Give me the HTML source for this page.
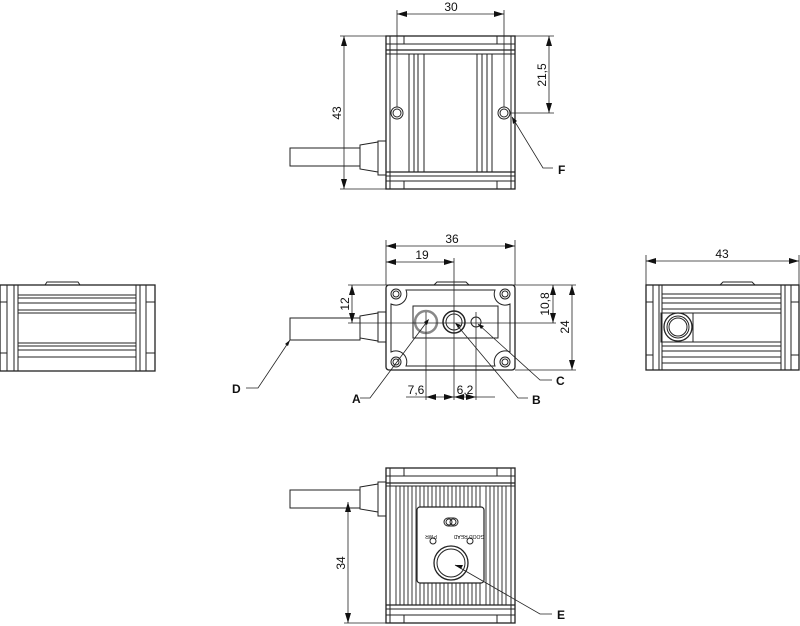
<!DOCTYPE html>
<html><head><style>
html,body{margin:0;padding:0;background:#fff}
svg{display:block}
text{font-family:"Liberation Sans",sans-serif;font-size:12px;fill:#111}
.b{font-weight:bold}
</style></head><body>
<svg width="800" height="626" viewBox="0 0 800 626" xmlns="http://www.w3.org/2000/svg">
<defs>
<marker id="ar" viewBox="0 0 10 6" refX="10" refY="3" markerWidth="10" markerHeight="6" orient="auto-start-reverse" markerUnits="userSpaceOnUse"><path d="M0,0 L10,3 L0,6z" fill="#111"/></marker>
</defs>
<g fill="none" stroke="#222" stroke-width="1">

<!-- ===== TOP VIEW ===== -->
<rect x="386" y="36" width="129" height="153" stroke-width="1.3"/>
<line x1="390" y1="36" x2="390" y2="189"/><line x1="511" y1="36" x2="511" y2="189"/>
<rect x="390" y="36" width="14" height="8"/><rect x="497" y="36" width="14" height="8"/>
<rect x="390" y="181" width="14" height="8"/><rect x="497" y="181" width="14" height="8"/>
<line x1="386" y1="44" x2="515" y2="44"/><line x1="386" y1="50" x2="515" y2="50" stroke-width="1.3"/><line x1="386" y1="54" x2="515" y2="54"/>
<line x1="386" y1="172" x2="515" y2="172" stroke-width="1.3"/><line x1="386" y1="176" x2="515" y2="176"/><line x1="386" y1="181" x2="515" y2="181"/>
<line x1="409" y1="54" x2="409" y2="172"/><line x1="414" y1="54" x2="414" y2="172"/><line x1="418" y1="54" x2="418" y2="172"/><line x1="424" y1="54" x2="424" y2="172"/>
<line x1="477" y1="54" x2="477" y2="172"/><line x1="482" y1="54" x2="482" y2="172"/><line x1="487" y1="54" x2="487" y2="172"/><line x1="492" y1="54" x2="492" y2="172"/>
<circle cx="397" cy="113" r="6"/><circle cx="397" cy="113" r="4"/>
<circle cx="504" cy="113" r="6"/><circle cx="504" cy="113" r="4"/>
<rect x="290" y="148" width="70" height="18"/>
<path d="M360,145 L378,142 L378,172 L360,169z"/>
<rect x="378" y="141" width="8" height="34"/>
<line x1="397" y1="10" x2="397" y2="107" stroke-width=".8"/><line x1="504" y1="10" x2="504" y2="107" stroke-width=".8"/>
<line x1="397" y1="14" x2="504" y2="14" stroke-width=".8" marker-start="url(#ar)" marker-end="url(#ar)"/>
<line x1="340" y1="36" x2="386" y2="36" stroke-width=".8"/><line x1="340" y1="189" x2="386" y2="189" stroke-width=".8"/>
<line x1="344" y1="36" x2="344" y2="189" stroke-width=".8" marker-start="url(#ar)" marker-end="url(#ar)"/>
<line x1="515" y1="36" x2="554" y2="36" stroke-width=".8"/><line x1="510" y1="113" x2="554" y2="113" stroke-width=".8"/>
<line x1="549" y1="36" x2="549" y2="113" stroke-width=".8" marker-start="url(#ar)" marker-end="url(#ar)"/>
<polyline points="512,117 543,168 553,168" stroke-width=".8"/>

<!-- ===== LEFT VIEW ===== -->
<rect x="0" y="285" width="155" height="86" stroke-width="1.3"/>
<path d="M45,285 L47,282 L78,282 L80,285"/>
<line x1="7" y1="285" x2="7" y2="371"/><line x1="14" y1="285" x2="14" y2="371"/><line x1="18" y1="285" x2="18" y2="371"/>
<line x1="136" y1="285" x2="136" y2="371"/><line x1="140" y1="285" x2="140" y2="371"/><line x1="146" y1="285" x2="146" y2="371"/>
<path d="M0,302 H7 M146,302 H155 V285 M0,353 H7 M146,353 H155"/>
<line x1="18" y1="295" x2="136" y2="295"/><line x1="18" y1="298" x2="136" y2="298"/><line x1="18" y1="303" x2="136" y2="303"/><line x1="18" y1="310" x2="136" y2="310"/><line x1="18" y1="313" x2="136" y2="313"/>
<line x1="18" y1="343" x2="136" y2="343"/><line x1="18" y1="346" x2="136" y2="346"/><line x1="18" y1="350" x2="136" y2="350"/><line x1="18" y1="357" x2="136" y2="357"/>

<!-- ===== CENTER VIEW ===== -->
<rect x="386" y="285" width="129" height="85" rx="3" stroke-width="1.3"/>
<path d="M406,290 H495 A11,11 0 0 0 510,304 V352 A11,11 0 0 0 495,366 H406 A11,11 0 0 0 391,352 V304 A11,11 0 0 0 406,290z"/>
<path d="M434,285 L437,282 L466,282 L469,285"/>
<circle cx="396" cy="294" r="5"/><circle cx="396" cy="294" r="3"/>
<circle cx="505" cy="294" r="5"/><circle cx="505" cy="294" r="3"/>
<circle cx="396" cy="362" r="5"/><circle cx="396" cy="362" r="3"/>
<circle cx="505" cy="362" r="5"/><circle cx="505" cy="362" r="3"/>
<rect x="413" y="306" width="85" height="32"/>
<circle cx="426" cy="322" r="11" stroke="#888" stroke-width="2.5"/>
<circle cx="454" cy="322" r="11" stroke-width="1.5"/><circle cx="454" cy="322" r="8"/>
<circle cx="476" cy="322" r="5"/>
<rect x="290" y="318" width="70" height="22"/>
<path d="M360,316 L378,313 L378,341 L360,338z"/>
<rect x="378" y="312" width="8" height="30"/>
<line x1="386" y1="240" x2="386" y2="285" stroke-width=".8"/><line x1="515" y1="240" x2="515" y2="285" stroke-width=".8"/>
<line x1="386" y1="246" x2="515" y2="246" stroke-width=".8" marker-start="url(#ar)" marker-end="url(#ar)"/>
<line x1="386" y1="262" x2="454" y2="262" stroke-width=".8" marker-start="url(#ar)" marker-end="url(#ar)"/>
<line x1="454" y1="258" x2="454" y2="400" stroke-width=".8"/>
<line x1="426" y1="312" x2="426" y2="400" stroke-width=".8"/><line x1="476" y1="312" x2="476" y2="400" stroke-width=".8"/>
<line x1="406" y1="397" x2="426" y2="397" stroke-width=".8"/>
<line x1="426" y1="397" x2="454" y2="397" stroke-width=".8" marker-start="url(#ar)" marker-end="url(#ar)"/>
<line x1="454" y1="397" x2="476" y2="397" stroke-width=".8" marker-start="url(#ar)" marker-end="url(#ar)"/>
<line x1="476" y1="397" x2="495" y2="397" stroke-width=".8"/>
<line x1="348" y1="285" x2="576" y2="285" stroke-width=".8"/>
<line x1="348" y1="323" x2="556" y2="323" stroke-width=".8"/>
<line x1="515" y1="370" x2="576" y2="370" stroke-width=".8"/>
<line x1="352" y1="285" x2="352" y2="323" stroke-width=".8" marker-start="url(#ar)" marker-end="url(#ar)"/>
<line x1="553" y1="285" x2="553" y2="323" stroke-width=".8" marker-start="url(#ar)" marker-end="url(#ar)"/>
<line x1="572" y1="285" x2="572" y2="370" stroke-width=".8" marker-start="url(#ar)" marker-end="url(#ar)"/>
<polyline points="426,323 370,398 360,398" stroke-width=".8"/>
<polyline points="456,324 518,398 528,398" stroke-width=".8"/>
<polyline points="478,324 540,380 552,380" stroke-width=".8"/>
<polyline points="290,340 258,388 246,388" stroke-width=".8"/>

<!-- ===== RIGHT VIEW ===== -->
<rect x="646" y="285" width="153" height="85" stroke-width="1.3"/>
<path d="M720,285 L723,282 L752,282 L755,285"/>
<line x1="653" y1="285" x2="653" y2="370"/><line x1="659" y1="285" x2="659" y2="370"/><line x1="662" y1="285" x2="662" y2="370"/>
<line x1="781" y1="285" x2="781" y2="370"/><line x1="785" y1="285" x2="785" y2="370"/><line x1="791" y1="285" x2="791" y2="370"/>
<path d="M646,302 H653 M791,302 H799 M646,355 H653 M791,355 H799"/>
<line x1="662" y1="294" x2="781" y2="294"/><line x1="662" y1="298" x2="781" y2="298"/><line x1="662" y1="303" x2="781" y2="303"/><line x1="662" y1="309" x2="781" y2="309"/>
<line x1="693" y1="313" x2="781" y2="313"/><line x1="693" y1="342" x2="781" y2="342"/>
<line x1="662" y1="346" x2="781" y2="346"/><line x1="662" y1="351" x2="781" y2="351"/><line x1="662" y1="357" x2="781" y2="357"/><line x1="662" y1="363" x2="781" y2="363"/>
<rect x="661" y="313" width="32" height="29"/>
<circle cx="678" cy="327" r="14" stroke-width="1.3"/><circle cx="678" cy="327" r="11"/><circle cx="678" cy="327" r="9"/>
<line x1="646" y1="255" x2="646" y2="285" stroke-width=".8"/><line x1="799" y1="255" x2="799" y2="285" stroke-width=".8"/>
<line x1="646" y1="261" x2="799" y2="261" stroke-width=".8" marker-start="url(#ar)" marker-end="url(#ar)"/>

<!-- ===== BOTTOM VIEW ===== -->
<rect x="386" y="468" width="129" height="155" stroke-width="1.3"/>
<line x1="390" y1="468" x2="390" y2="623"/><line x1="511" y1="468" x2="511" y2="623"/>
<rect x="390" y="468" width="14" height="8"/><rect x="497" y="468" width="14" height="8"/>
<rect x="390" y="615" width="14" height="8"/><rect x="497" y="615" width="14" height="8"/>
<line x1="386" y1="476" x2="515" y2="476"/><line x1="386" y1="483" x2="515" y2="483" stroke-width="1.3"/><line x1="386" y1="486" x2="515" y2="486"/>
<line x1="386" y1="605" x2="515" y2="605" stroke-width="1.3"/><line x1="386" y1="609" x2="515" y2="609"/><line x1="386" y1="615" x2="515" y2="615"/>
<path stroke-width=".9" d="M396,486V605M400,486V605M404,486V605M408,486V605M412,486V605M416,486V605M420,486V507M424,486V507M428,486V507M432,486V507M436,486V507M440,486V507M444,486V507M448,486V507M452,486V507M456,486V507M460,486V507M464,486V507M468,486V507M472,486V507M476,486V507M480,486V507M420,583V605M424,583V605M428,583V605M432,583V605M436,583V605M440,583V605M444,583V605M448,583V605M452,583V605M456,583V605M460,583V605M464,583V605M468,583V605M472,583V605M476,583V605M480,583V605M486,486V605M490,486V605M494,486V605M498,486V605M502,486V605M506,486V605"/>
<rect x="417" y="507" width="67" height="76" rx="3" fill="#fff" stroke-width="1.2"/>
<circle cx="449" cy="522" r="3"/><circle cx="453" cy="522" r="3"/><rect x="444" y="518" width="14" height="8" rx="4"/>
<circle cx="433" cy="541" r="3"/><circle cx="470" cy="541" r="3"/>
<circle cx="451" cy="563" r="17" stroke-width="1.3"/><circle cx="451" cy="563" r="14"/>
<rect x="290" y="490" width="70" height="18"/>
<path d="M360,487 L378,484 L378,512 L360,509z"/>
<rect x="378" y="482" width="8" height="34"/>
<line x1="344" y1="623" x2="386" y2="623" stroke-width=".8"/>
<line x1="348" y1="502" x2="348" y2="623" stroke-width=".8" marker-start="url(#ar)" marker-end="url(#ar)"/>
<polyline points="455,565 540,614 552,614" stroke-width=".8"/>
</g>
<g fill="#111">
<path d="M512,117 l1,7 l4,-3z"/>
<path d="M429,319 l-5,3 l3,3z"/>
<path d="M455,323 l3,5 l3,-3z"/>
<path d="M478,324 l3,5 l3,-3z"/>
<path d="M290,340 l-5,4 l3,2z"/>
<path d="M455,565 l6,4 l2,-4z"/>
</g>
<text x="451" y="11" text-anchor="middle">30</text>
<text transform="translate(341,113) rotate(-90)" text-anchor="middle">43</text>
<text transform="translate(546,75) rotate(-90)" text-anchor="middle">21,5</text>
<text x="558" y="174" class="b">F</text>
<text x="452" y="243" text-anchor="middle">36</text>
<text x="422" y="259" text-anchor="middle">19</text>
<text transform="translate(349,304) rotate(-90)" text-anchor="middle">12</text>
<text transform="translate(549,304) rotate(-90)" text-anchor="middle">10,8</text>
<text transform="translate(569,327) rotate(-90)" text-anchor="middle">24</text>
<text x="416" y="394" text-anchor="middle">7,6</text>
<text x="465" y="394" text-anchor="middle">6,2</text>
<text x="352" y="403" class="b">A</text>
<text x="532" y="404" class="b">B</text>
<text x="556" y="385" class="b">C</text>
<text x="232" y="393" class="b">D</text>
<text x="722" y="258" text-anchor="middle">43</text>
<text transform="translate(345,563) rotate(-90)" text-anchor="middle">34</text>
<text x="557" y="619" class="b">E</text>
<text transform="translate(431,535) scale(-1,-1)" text-anchor="middle" style="font-size:5px">PWR</text>
<text transform="translate(469,535) scale(-1,-1)" text-anchor="middle" style="font-size:5px">GOOD READ</text>
</svg>
</body></html>
